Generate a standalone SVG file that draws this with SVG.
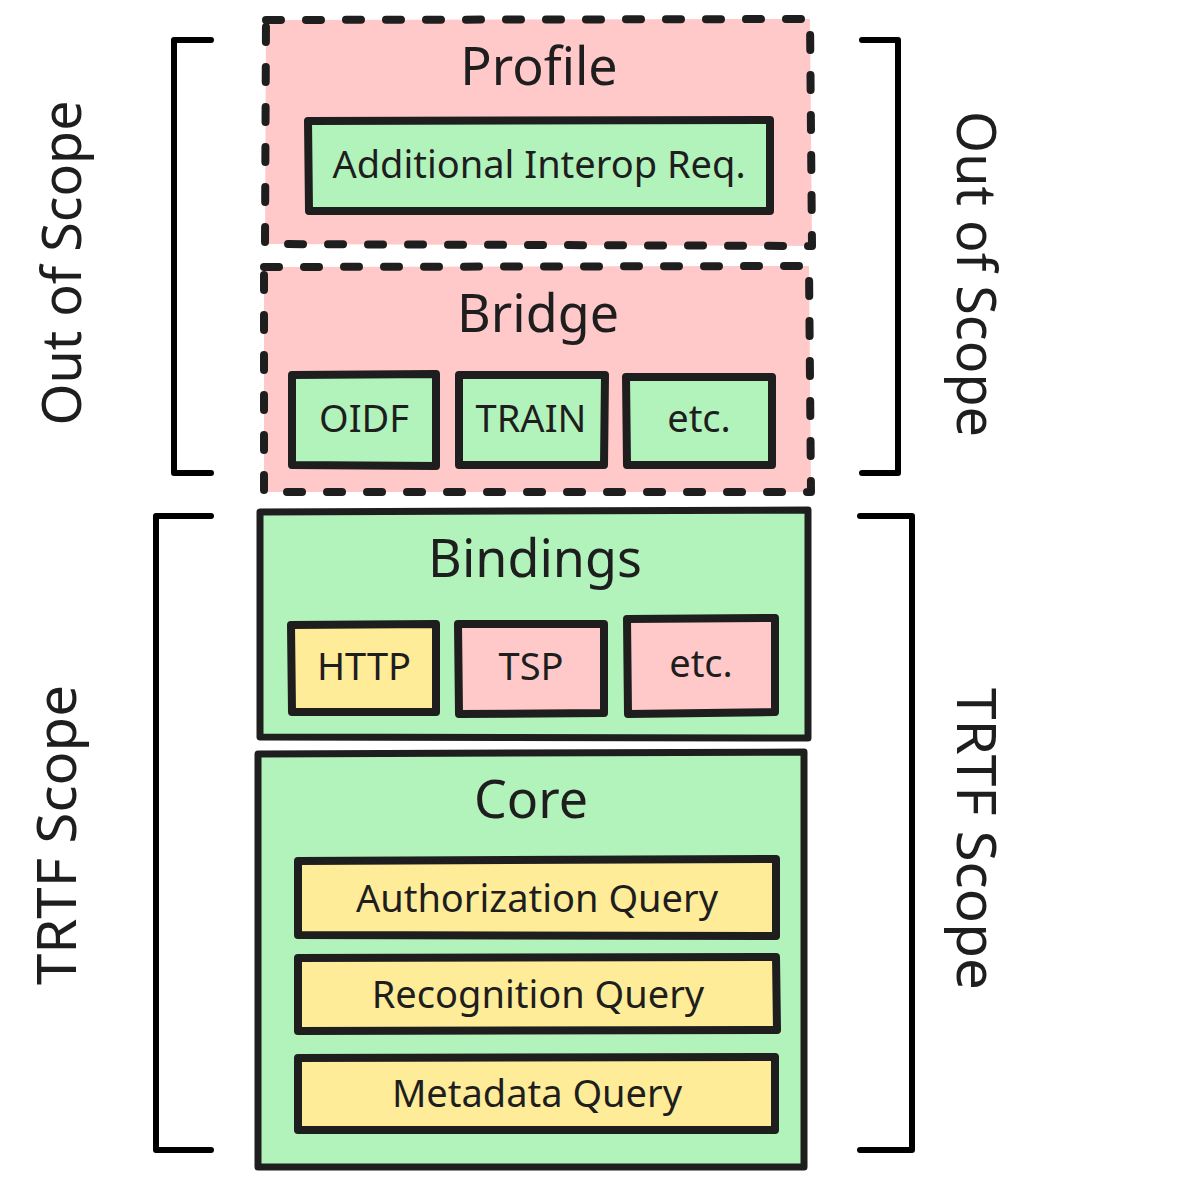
<svg xmlns="http://www.w3.org/2000/svg" width="1188" height="1186" viewBox="0 0 1188 1186">
<style>
.t{font-family:"Noto Sans","DejaVu Sans",sans-serif;fill:#1e1e1e;text-anchor:middle}
.title{font-size:52px}
.lab{font-size:38px}
.side{font-size:54px}
.box{stroke:#1e1e1e;stroke-width:8;stroke-linejoin:round;stroke-linecap:round}
.outer{stroke:#1e1e1e;stroke-width:7;stroke-linejoin:round;stroke-linecap:round}
.dash{stroke-width:8;stroke-dasharray:15 25}
.pink{fill:#ffc9c9}
.green{fill:#b2f2bb}
.yellow{fill:#ffec99}
.br{fill:none;stroke:#000;stroke-width:6;stroke-linecap:round;stroke-linejoin:round}
</style>
<rect width="1188" height="1186" fill="#ffffff"/>

<g id="profile">
<path class="outer dash pink" d="M266,20 L810,19 L812,246 L265,244 Z"/>
<text class="t title" x="539" y="85">Profile</text>
<g id="additional-interop">
<path class="box green" d="M308,121 L770,120 L770,211 L309,211 Z"/>
<text class="t lab" x="539" y="178">Additional Interop Req.</text>
</g>
</g>

<g id="bridge">
<path class="outer dash pink" d="M264,267 L809,266 L811,492 L264,492 Z"/>
<text class="t title" x="538" y="332">Bridge</text>
<g id="oidf">
<path class="box green" d="M292,375 L436,374 L436,466 L292,465 Z"/>
<text class="t lab" x="364" y="432">OIDF</text>
</g>
<g id="train">
<path class="box green" d="M459,375 L605,375 L604,465 L459,465 Z"/>
<text class="t lab" x="531" y="432">TRAIN</text>
</g>
<g id="bridge-etc">
<path class="box green" d="M626,377 L772,377 L772,465 L627,465 Z"/>
<text class="t lab" x="699" y="432">etc.</text>
</g>
</g>

<g id="bindings">
<path class="outer green" d="M260,512 L808,510 L808,738 L260,737 Z"/>
<text class="t title" x="535" y="577">Bindings</text>
<g id="http">
<path class="box yellow" d="M291,625 L436,624 L436,712 L292,712 Z"/>
<text class="t lab" x="364" y="680">HTTP</text>
</g>
<g id="tsp">
<path class="box pink" d="M458,624 L604,624 L604,713 L459,714 Z"/>
<text class="t lab" x="531" y="680">TSP</text>
</g>
<g id="bindings-etc">
<path class="box pink" d="M627,619 L775,618 L775,712 L628,714 Z"/>
<text class="t lab" x="701" y="677">etc.</text>
</g>
</g>

<g id="core">
<path class="outer green" d="M258,754 L804,752 L804,1167 L258,1167 Z"/>
<text class="t title" x="531" y="818">Core</text>
<g id="authorization-query">
<path class="box yellow" d="M298,861 L776,859 L776,936 L298,935 Z"/>
<text class="t lab" x="537" y="912">Authorization Query</text>
</g>
<g id="recognition-query">
<path class="box yellow" d="M298,958 L776,957 L777,1030 L298,1031 Z"/>
<text class="t lab" x="538" y="1008">Recognition Query</text>
</g>
<g id="metadata-query">
<path class="box yellow" d="M298,1058 L775,1057 L775,1130 L298,1130 Z"/>
<text class="t lab" x="537" y="1107">Metadata Query</text>
</g>
</g>

<g id="connectors">
<path class="br" d="M211,40 L174,40 L174,473 L211,473"/>
<path class="br" d="M211,516 L156,516 L156,1150 L211,1150"/>
<path class="br" d="M862,40 L898,40 L898,473 L862,473"/>
<path class="br" d="M860,516 L912,516 L912,1150 L860,1150"/>
</g>

<g id="scope-labels">
<text class="t side" transform="translate(81,263) rotate(-90)" textLength="325" lengthAdjust="spacingAndGlyphs">Out of Scope</text>
<text class="t side" transform="translate(76,835) rotate(-90)" textLength="300" lengthAdjust="spacingAndGlyphs">TRTF Scope</text>
<text class="t side" transform="translate(957,274) rotate(90)" textLength="326" lengthAdjust="spacingAndGlyphs">Out of Scope</text>
<text class="t side" transform="translate(957,839) rotate(90)" textLength="302" lengthAdjust="spacingAndGlyphs">TRTF Scope</text>
</g>
</svg>
